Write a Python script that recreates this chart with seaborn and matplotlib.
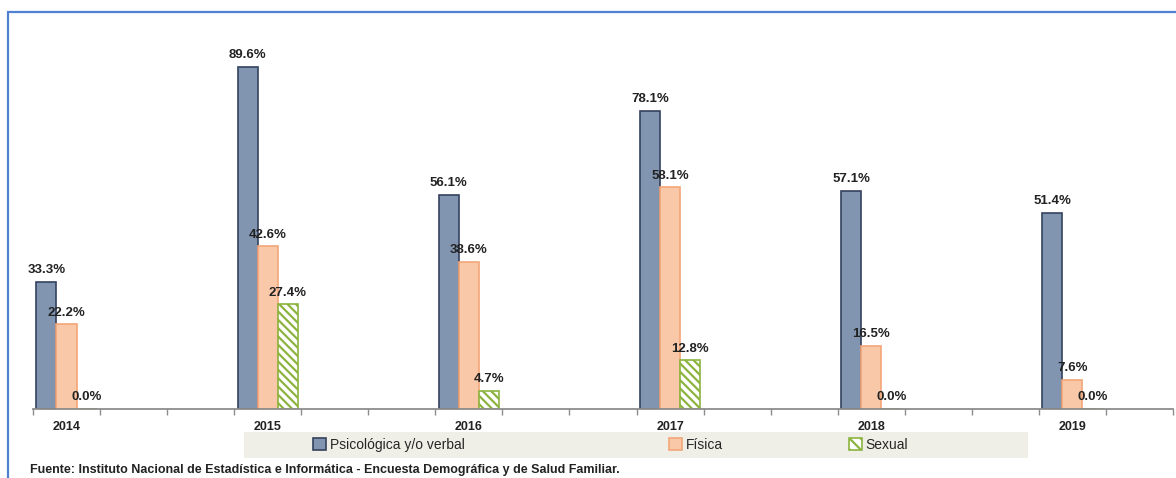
import numpy as np
import pandas as pd
import seaborn as sns
import matplotlib.pyplot as plt
from matplotlib.patches import Patch, Rectangle

# Data (percentages)
years = ["2014", "2015", "2016", "2017", "2018", "2019"]
psicologica = [33.3, 89.6, 56.1, 78.1, 57.1, 51.4]
fisica = [22.2, 42.6, 38.6, 58.1, 16.5, 7.6]
sexual = [0.0, 27.4, 4.7, 12.8, 0.0, 0.0]
series = ["Psicológica y/o verbal", "Física", "Sexual"]

fill_colors = ["#8195b1", "#f8c8a9", "#ffffff"]
edge_colors = ["#34425f", "#f3a678", "#8cb43f"]
source = "Fuente: Instituto Nacional de Estadística e Informática - Encuesta Demográfica y de Salud Familiar."

# long format table
df = pd.DataFrame({
    "Año": years * 3,
    "Tipo": [series[0]] * 6 + [series[1]] * 6 + [series[2]] * 6,
    "Valor": psicologica + fisica + sexual,
})

# each year followed by two empty slots on the category axis
order = []
for y in years:
    order += [y, y + " ", y + "  "]
order = order[:-1]

sns.set_style("white")
plt.rcParams["font.family"] = ["Liberation Sans", "DejaVu Sans"]
plt.rcParams["hatch.color"] = edge_colors[2]
plt.rcParams["hatch.linewidth"] = 1.6

fig = plt.figure(figsize=(11.76, 4.78), dpi=100)
ax = fig.add_axes([33 / 1176, 69 / 478, 1140 / 1176, 382 / 478])

sns.barplot(data=df, x="Año", y="Valor", hue="Tipo", order=order,
            hue_order=series, palette=fill_colors, saturation=1, width=0.9,
            legend=False, ax=ax)

for i, cont in enumerate(ax.containers):
    for bar in cont:
        bar.set_edgecolor(edge_colors[i])
        bar.set_linewidth(1.2)
        if i == 2:
            bar.set_hatch("\\\\\\\\")
    ax.bar_label(cont, fmt="%.1f%%", padding=4, fontsize=9.5,
                 fontweight="bold", color="#222222")

ax.set_ylim(0, 100)
ax.set_xlim(-0.5, len(order) - 0.5)
ax.set_xlabel("")
ax.set_ylabel("")
ax.set_yticks([])
for s in ["top", "right", "left"]:
    ax.spines[s].set_visible(False)
ax.spines["bottom"].set_color("#8c8c8c")
ax.spines["bottom"].set_linewidth(1.3)

# tick marks at slot edges, year labels at slot centres
ax.set_xticks(np.arange(-0.5, len(order), 1))
ax.set_xticklabels([])
ax.tick_params(axis="x", which="major", bottom=True, length=4, width=1,
               color="#8c8c8c", direction="out")
year_pos = [order.index(y) for y in years]
ax.set_xticks(year_pos, minor=True)
ax.set_xticklabels(years, minor=True, fontsize=9, fontweight="bold",
                   color="#222222")
ax.tick_params(axis="x", which="minor", bottom=True, length=0, pad=9)

# legend band
fig.add_artist(Rectangle((244 / 1176, 1 - 458 / 478), 784 / 1176, 26 / 478,
                         transform=fig.transFigure, facecolor="#f0efe7",
                         edgecolor="none", zorder=0))
legend_x = [313, 669, 849]
for i, name in enumerate(series):
    h = Patch(facecolor=fill_colors[i], edgecolor=edge_colors[i],
              hatch="\\\\\\" if i == 2 else None, linewidth=1.2)
    fig.legend(handles=[h], labels=[name], loc="center left",
               bbox_to_anchor=(legend_x[i] / 1176, 1 - 445 / 478),
               frameon=False, handlelength=0.9, handleheight=0.9,
               handletextpad=0.3, borderpad=0, borderaxespad=0,
               fontsize=10)

fig.text(30 / 1176, 1 - 470 / 478, source, fontsize=9, fontweight="bold",
         va="center", color="#222222")

# blue outer frame
fig.add_artist(Rectangle((8 / 1176, -0.05), 1.0, 1 - 12 / 478 + 0.05,
                         transform=fig.transFigure, fill=False,
                         edgecolor="#4f81d0", linewidth=1.6, clip_on=False))

fig.savefig("out.png", dpi=100)
